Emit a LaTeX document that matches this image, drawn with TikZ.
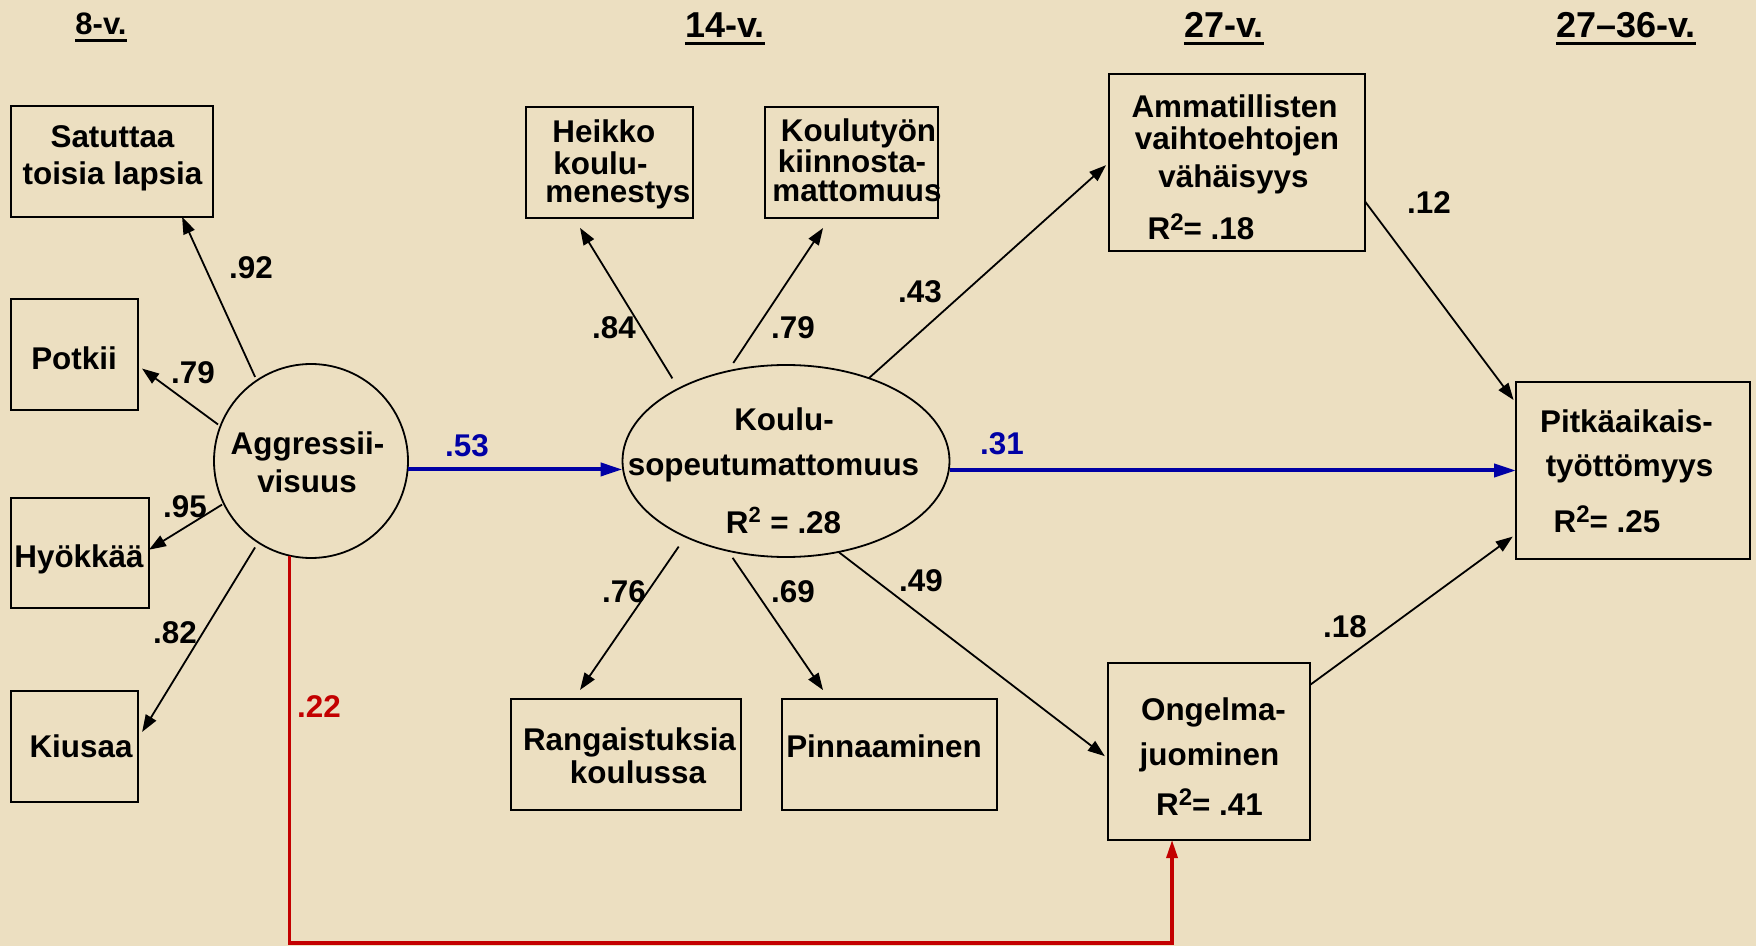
\documentclass[tikz,border=0pt]{standalone}
\usepackage{fontspec}
\setmainfont{Liberation Sans}
\usetikzlibrary{shapes.geometric,arrows.meta,calc}
\definecolor{bgc}{RGB}{236,223,193}
\definecolor{pblue}{RGB}{0,0,165}
\definecolor{pred}{RGB}{195,0,0}
\newcommand{\Rbox}{R\raisebox{4.8pt}{\fontsize{12}{12}\selectfont 2}}
\begin{document}
\begin{tikzpicture}[x=0.5pt,y=-0.5pt,
  box/.style={draw=black,line width=0.9pt,rectangle,inner sep=0pt,outer sep=0pt},
  lat/.style={draw=black,line width=0.9pt,inner sep=0pt,outer sep=0pt},
  txt/.style={font=\fontsize{15.7}{18}\selectfont\bfseries,inner sep=0pt,anchor=base},
  ttl/.style={font=\fontsize{18}{20}\selectfont\bfseries,inner sep=0pt,anchor=base},
  lab/.style={font=\fontsize{15.7}{18}\selectfont\bfseries,inner sep=0pt},
  ar/.style={draw=black,line width=0.9pt,-{Triangle[length=8.5pt,width=6pt]}},
  bar/.style={draw=pblue,line width=2pt,-{Triangle[length=11pt,width=6.5pt]}},
  rar/.style={draw=pred,line width=1.6pt,-{Triangle[length=9pt,width=5.5pt]}},
  uline/.style={line width=1.5pt}
]
\fill[bgc] (0,0) rectangle (1756,946);
\useasboundingbox (0,0) rectangle (1756,946);

% titles
\node[ttl,font=\fontsize{15.5}{18}\selectfont\bfseries] (t8) at (101,35) {8-v.};
\node[ttl] (t14) at (725,38) {14-v.};
\node[ttl] (t27) at (1224,38) {27-v.};
\node[ttl] (t2736) at (1626,38) {27--36-v.};
\foreach \t in {t8,t14,t27,t2736}
  \draw[uline] ([yshift=-3pt]\t.base west) -- ([yshift=-3pt]\t.base east);

% boxes
\node[box,minimum width=101pt,minimum height=55.5pt] (sat) at (112,161.5) {};
\node[box,minimum width=63.5pt,minimum height=55.5pt] (pot) at (74.5,354.5) {};
\node[box,minimum width=69pt,minimum height=55pt] (hyo) at (80,553) {};
\node[box,minimum width=63.5pt,minimum height=55.5pt] (kiu) at (74.5,746.5) {};
\node[box,minimum width=83.5pt,minimum height=55.5pt] (hei) at (609.5,162.5) {};
\node[box,minimum width=86.5pt,minimum height=55.5pt] (kty) at (851.5,162.5) {};
\node[box,minimum width=115pt,minimum height=55.5pt] (ran) at (626,754.5) {};
\node[box,minimum width=107.5pt,minimum height=55.5pt] (pin) at (889.5,754.5) {};
\node[box,minimum width=128pt,minimum height=88.5pt] (amm) at (1237,162.5) {};
\node[box,minimum width=117pt,minimum height=88.5pt] (pit) at (1633,470.5) {};
\node[box,minimum width=101pt,minimum height=88.5pt] (ong) at (1209,751.5) {};

% latent variables
\node[lat,circle,minimum size=97pt] (agg) at (311,461) {};
\node[lat,ellipse,minimum width=163.5pt,minimum height=96pt] (koulu) at (786,461) {};

% texts
\node[txt] (satA) at (112.5,148) {Satuttaa};
\node[txt] (satB) at (112.5,185) {toisia lapsia};
\node[txt] (potA) at (74,370) {Potkii};
\node[txt] (hyoA) at (79,567) {Hyökkää};
\node[txt] (kiuA) at (81,757) {Kiusaa};
\node[txt] (aggA) at (307.5,455) {Aggressii-};
\node[txt] (aggB) at (307,493) {visuus};
\node[txt] (kouA) at (784,430) {Koulu-};
\node[txt] (kouB) at (773.5,475) {sopeutumattomuus};
\node[txt] (kouC) at (783.5,533) {R\textsuperscript{2} = .28};
\node[txt,anchor=base west] (heiA) at (552,143) {Heikko};
\node[txt,anchor=base west] (heiB) at (553,175) {koulu-};
\node[txt,anchor=base west] (heiC) at (545,203) {menestys};
\node[txt] (ktyA) at (858.5,142) {Koulutyön};
\node[txt] (ktyB) at (852,173) {kiinnosta-};
\node[txt] (ktyC) at (857,202) {mattomuus};
\node[txt] (ranA) at (629.5,750) {Rangaistuksia};
\node[txt] (ranB) at (638,783) {koulussa};
\node[txt] (pinA) at (884,757) {Pinnaaminen};
\node[txt] (ammA) at (1234.5,118) {Ammatillisten};
\node[txt] (ammB) at (1237,150) {vaihtoehtojen};
\node[txt] (ammC) at (1233.5,188) {vähäisyys};
\node[txt] (ammD) at (1201,240) {\Rbox= .18};
\node[txt] (pitA) at (1626.5,433) {Pitkäaikais-};
\node[txt] (pitB) at (1629.5,477) {työttömyys};
\node[txt] (pitC) at (1607,532) {\Rbox= .25};
\node[txt] (ongA) at (1213.5,720) {Ongelma-};
\node[txt] (ongB) at (1209.5,765) {juominen};
\node[txt] (ongC) at (1209.5,815) {\Rbox= .41};

% measurement arrows from Aggressiivisuus
\draw[ar,shorten <=2pt] (agg.124) -- ($(sat.south west)!0.847!(sat.south east)$);
\draw[ar,shorten <=1.5pt,shorten >=2.5pt] (agg.159) -- ($(pot.north east)!0.6!(pot.south east)$);
\draw[ar,shorten <=1pt] (agg.206) -- ($(hyo.north east)!0.47!(hyo.south east)$);
\draw[ar,shorten <=3pt,shorten >=4pt] (agg.237) -- ($(kiu.north east)!0.43!(kiu.south east)$);

% measurement arrows from Koulusopeutumattomuus
\draw[ar,shorten <=6pt,shorten >=5.8pt] (koulu.146) -- ($(hei.south west)!0.287!(hei.south east)$);
\draw[ar,shorten <=5pt,shorten >=6pt] (koulu.123.7) -- ($(kty.south west)!0.374!(kty.south east)$);
\draw[ar,shorten <=6pt,shorten >=5.5pt] (koulu.217.8) -- ($(ran.north west)!0.273!(ran.north east)$);
\draw[ar,shorten <=4.3pt,shorten >=5.4pt] (koulu.237.2) -- ($(pin.north west)!0.219!(pin.north east)$);

% structural paths
\draw[bar] (agg.-5) -- (agg.-5 -| koulu.west);
\draw[bar] (pit.west -| koulu.east) -- (pit.west);
\draw[ar,shorten >=2pt] (koulu.45) -- (amm.west);
\draw[ar,shorten >=2pt] (koulu.300) -- ($(ong.north west)!0.54!(ong.south west)$);
\draw[ar,shorten >=2pt] ($(amm.north east)!0.72!(amm.south east)$) -- ($(pit.north west)!0.12!(pit.south west)$);
\draw[ar,shorten >=2pt] ($(ong.north east)!0.124!(ong.south east)$) -- ($(pit.north west)!0.86!(pit.south west)$);
\coordinate (redin) at ($(ong.south west)!0.317!(ong.south east)$);
\draw[rar,line join=miter] (agg.257) |- ($(redin)+(0,103)$) -- (redin);

% coefficient labels
\node[lab] (l92) at (251,268) {.92};
\node[lab] (l79a) at (193,373) {.79};
\node[lab] (l95) at (185,507) {.95};
\node[lab] (l82) at (175,633) {.82};
\node[lab,text=pred] (l22) at (319,707) {.22};
\node[lab,text=pblue] (l53) at (467,446) {.53};
\node[lab] (l84) at (614,328) {.84};
\node[lab] (l79b) at (793,328) {.79};
\node[lab] (l43) at (920,292) {.43};
\node[lab] (l76) at (624,592) {.76};
\node[lab] (l69) at (793,592) {.69};
\node[lab] (l49) at (921,581) {.49};
\node[lab,text=pblue] (l31) at (1002,444) {.31};
\node[lab] (l12) at (1429,203) {.12};
\node[lab] (l18) at (1345,627) {.18};
\end{tikzpicture}
\end{document}
